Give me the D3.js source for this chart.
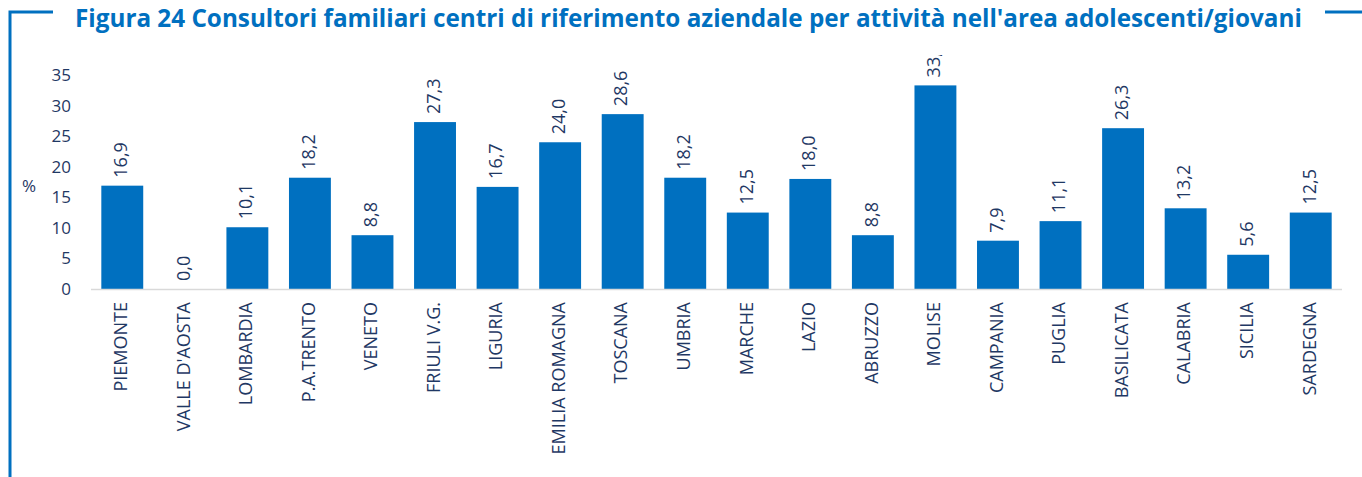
<!DOCTYPE html>
<html>
<head>
<meta charset="utf-8">
<script src="https://cdn.jsdelivr.net/npm/d3@7"></script>
<style>
  body { margin: 0; background: #fff; }
  svg { display: block; font-family: "Open Sans", sans-serif; }
</style>
</head>
<body>
<div id="chart"></div>
<script>
// data
const regions = ["PIEMONTE", "VALLE D'AOSTA", "LOMBARDIA", "P.A.TRENTO", "VENETO",
    "FRIULI V.G.", "LIGURIA", "EMILIA ROMAGNA", "TOSCANA", "UMBRIA", "MARCHE",
    "LAZIO", "ABRUZZO", "MOLISE", "CAMPANIA", "PUGLIA", "BASILICATA", "CALABRIA",
    "SICILIA", "SARDEGNA"];
const values = [16.9, 0.0, 10.1, 18.2, 8.8, 27.3, 16.7, 24.0, 28.6, 18.2, 12.5,
    18.0, 8.8, 33.3, 7.9, 11.1, 26.3, 13.2, 5.6, 12.5];
const yTicks = [0, 5, 10, 15, 20, 25, 30, 35];
const title = "Figura 24 Consultori familiari centri di riferimento aziendale per attività nell'area adolescenti/giovani";

const width = 1362, height = 477;
const blue = "#0070c0", navy = "#1f3864";
const fmt = (v) => v.toFixed(1).replace(".", ",");

const svg = d3.select("#chart")
    .append("svg")
    .attr("width", width)
    .attr("height", height);

// frame decoration
svg.append("path")
    .attr("d", "M10,477 V12 H53")
    .attr("fill", "none")
    .attr("stroke", blue)
    .attr("stroke-width", 3);
svg.append("line")
    .attr("x1", 1325).attr("x2", 1362)
    .attr("y1", 12).attr("y2", 12)
    .attr("stroke", blue)
    .attr("stroke-width", 3);

// title, fitted to the reference width
const titleText = svg.append("text")
    .attr("x", 75)
    .attr("y", 27)
    .attr("fill", blue)
    .attr("font-weight", "bold")
    .attr("font-size", 22)
    .text(title);
const tw = titleText.node().getComputedTextLength();
titleText.attr("font-size", 22 * 1228 / tw);

// scales
const x = d3.scaleBand()
    .domain(regions)
    .range([91, 1342])
    .paddingInner(0.33)
    .paddingOuter(0.165);

const y = d3.scaleLinear()
    .domain([0, 35])
    .range([289, 75]);

// y axis
const yAxis = svg.append("g")
    .attr("transform", "translate(71,0)")
    .call(d3.axisLeft(y).tickValues(yTicks).tickSize(0).tickPadding(0));
yAxis.select(".domain").remove();
yAxis.selectAll("text")
    .attr("fill", navy)
    .attr("font-size", 17)
    .attr("font-family", "Open Sans, sans-serif");

svg.append("text")
    .attr("x", 29)
    .attr("y", 187)
    .attr("text-anchor", "middle")
    .attr("dominant-baseline", "middle")
    .attr("fill", navy)
    .attr("font-size", 17)
    .text("%");

// bars + labels are clipped at the top of the plot area
svg.append("clipPath")
    .attr("id", "plot-clip")
    .append("rect")
    .attr("x", 80).attr("y", 55)
    .attr("width", 1280).attr("height", 240);

const plot = svg.append("g").attr("clip-path", "url(#plot-clip)");

plot.selectAll("rect.bar")
    .data(values)
    .enter()
    .append("rect")
    .attr("class", "bar")
    .attr("x", (d, i) => x(regions[i]))
    .attr("y", (d) => y(d))
    .attr("width", x.bandwidth())
    .attr("height", (d) => y(0) - y(d))
    .attr("fill", blue);

plot.selectAll("text.val")
    .data(values)
    .enter()
    .append("text")
    .attr("class", "val")
    .attr("transform", (d, i) =>
        `translate(${x(regions[i]) + x.bandwidth() / 2}, ${y(d) - 8}) rotate(-90)`)
    .attr("dominant-baseline", "middle")
    .attr("fill", navy)
    .attr("font-size", 18)
    .text(fmt);

// x axis line
svg.append("line")
    .attr("x1", 91).attr("x2", 1342)
    .attr("y1", 289.5).attr("y2", 289.5)
    .attr("stroke", "#d9d9d9")
    .attr("stroke-width", 1.5);

// category labels
svg.selectAll("text.cat")
    .data(regions)
    .enter()
    .append("text")
    .attr("class", "cat")
    .attr("transform", (d) =>
        `translate(${x(d) + x.bandwidth() / 2}, 302) rotate(-90)`)
    .attr("text-anchor", "end")
    .attr("dominant-baseline", "middle")
    .attr("fill", navy)
    .attr("font-size", 18)
    .text((d) => d);
</script>
</body>
</html>
